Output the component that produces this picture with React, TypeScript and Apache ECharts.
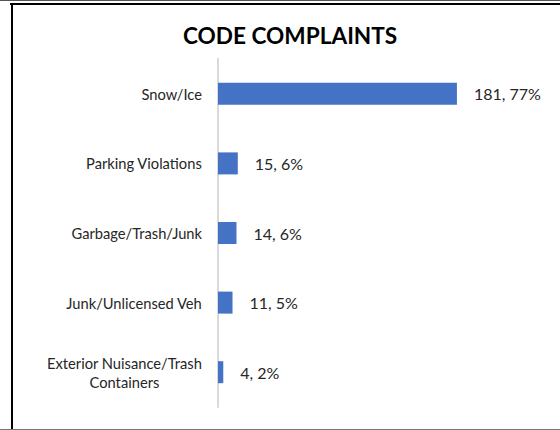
import React, { useEffect, useRef } from 'react';
import * as echarts from 'echarts';

const chartTitle = 'CODE COMPLAINTS';
const categories = [
  'Snow/Ice',
  'Parking Violations',
  'Garbage/Trash/Junk',
  'Junk/Unlicensed Veh',
  'Exterior Nuisance/Trash Containers',
];
const counts = [181, 15, 14, 11, 4];
const percents = [77, 6, 6, 5, 2];

const FONT = 'Lato, "Liberation Sans", sans-serif';

function wrapLabel(v: string): string {
  let lines = [v];
  if (v.length > 24) {
    const i = v.lastIndexOf(' ');
    lines = [v.slice(0, i), v.slice(i + 1)];
  }
  return lines.map((l) => `{c|${l}}`).join('\n');
}

export default function App() {
  const ref = useRef<HTMLDivElement>(null);
  useEffect(() => {
    const chart = echarts.init(ref.current!, null, { renderer: 'svg' });
    chart.setOption({
      animation: false,
      backgroundColor: '#ffffff',
      title: {
        text: chartTitle,
        left: 183,
        top: 24,
        padding: 0,
        textStyle: { fontFamily: FONT, fontWeight: 'bold', fontSize: 22.6, color: '#000000' },
      },
      grid: { left: 218, right: 78, top: 59, bottom: 23, containLabel: false },
      xAxis: { type: 'value', min: 0, max: 200, show: false },
      yAxis: {
        type: 'category',
        data: categories,
        inverse: true,
        axisLine: { show: true, lineStyle: { color: '#d9d9d9', width: 2 } },
        axisTick: { show: false },
        splitLine: { show: false },
        axisLabel: {
          margin: 16,
          formatter: wrapLabel,
          rich: {
            c: { fontFamily: FONT, fontSize: 14.7, color: '#262626', align: 'center', lineHeight: 19 },
          },
        },
      },
      series: [
        {
          type: 'bar',
          data: counts,
          barWidth: 22,
          itemStyle: { color: '#4472C4' },
          label: {
            show: true,
            position: 'right',
            distance: 17,
            fontFamily: FONT,
            fontSize: 16,
            color: '#262626',
            formatter: (p: any) => `${counts[p.dataIndex]}, ${percents[p.dataIndex]}%`,
          },
        },
      ],
      graphic: [
        { type: 'line', shape: { x1: 0, y1: 0.5, x2: 560, y2: 0.5 }, style: { stroke: '#555555', lineWidth: 1 } },
        { type: 'line', shape: { x1: 10, y1: 4, x2: 560, y2: 4 }, style: { stroke: '#000000', lineWidth: 2 } },
        { type: 'line', shape: { x1: 12, y1: 3, x2: 12, y2: 429 }, style: { stroke: '#000000', lineWidth: 2 } },
        { type: 'line', shape: { x1: 0, y1: 429.5, x2: 560, y2: 429.5 }, style: { stroke: '#777777', lineWidth: 1 } },
      ],
    });
    return () => chart.dispose();
  }, []);
  return <div ref={ref} style={{ position: 'fixed', left: 0, top: 0, width: 560, height: 430 }} />;
}
